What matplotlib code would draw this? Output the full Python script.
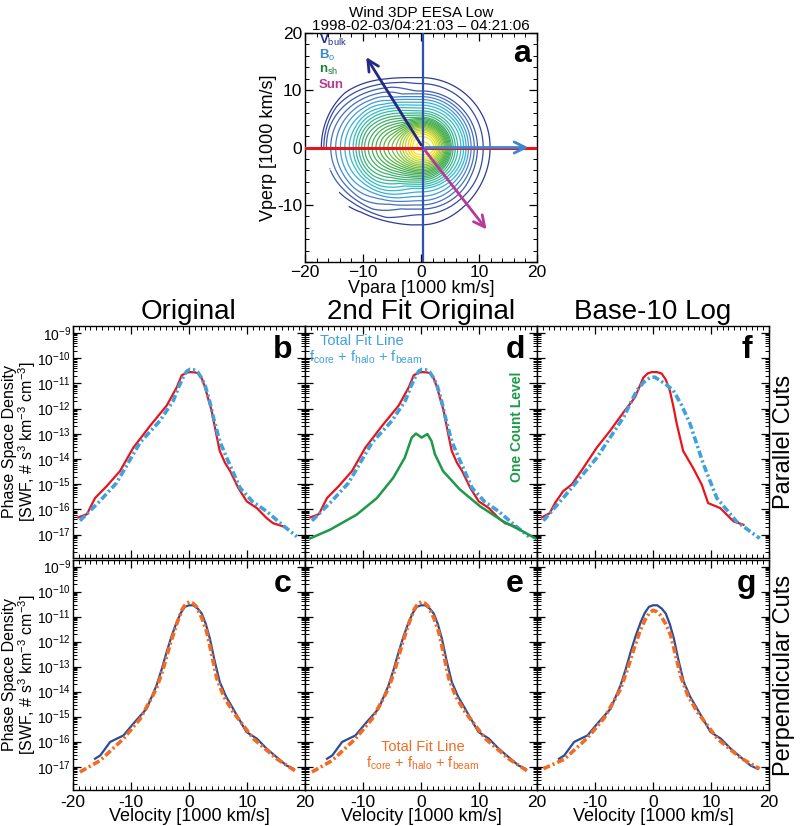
import numpy as np
import matplotlib
matplotlib.use('Agg')
import matplotlib.pyplot as plt
from matplotlib.colors import LinearSegmentedColormap
from matplotlib.ticker import FixedLocator, MultipleLocator, LogLocator, NullFormatter, FuncFormatter

plt.rcParams['font.family'] = ['Liberation Sans', 'DejaVu Sans']
plt.rcParams['mathtext.fontset'] = 'custom'
plt.rcParams['mathtext.rm'] = 'Liberation Sans'
plt.rcParams['mathtext.it'] = 'Liberation Sans:italic'
plt.rcParams['mathtext.bf'] = 'Liberation Sans:bold'

# ---- data (velocity in 1000 km/s, log10 of phase space density) ----
# parallel cut, measured (panels b, d)
v_par = [-19.1, -17.6, -16.2, -14.2, -11.9, -9.6, -6.7, -3.85, -2.1, -1.26, -0.5, 0.17, 1.0, 1.6,
         2.2, 2.76, 3.3, 3.9, 4.6, 5.3, 6.2, 7.1, 8.5, 9.95, 11.7, 13.4, 14.5, 16.3]
logf_par = [-16.32, -16.19, -15.55, -15.08, -14.48, -13.55, -12.68, -11.88, -11.15, -10.68, -10.58, -10.55,
            -10.56, -10.6, -10.8, -11.15, -11.6, -12.08, -12.9, -13.68, -14.15, -14.48, -15.15, -15.68,
            -15.95, -16.35, -16.55, -16.68]
# parallel cut, total fit (panels b, d)
v_par_fit = [-18.8, -15.5, -12.5, -8.45, -5.0, -2.7, -1.8, -1.0, -0.4, 0.17, 0.8, 1.5, 2.2, 2.8, 3.5,
             4.2, 5.3, 6.5, 8.8, 11.0, 13.4, 16.0, 18.6]
logf_par_fit = [-16.45, -15.7, -14.95, -13.35, -12.48, -11.68, -11.15, -10.75, -10.52, -10.44, -10.46,
                -10.55, -10.8, -11.1, -11.65, -12.35, -13.3, -13.95, -15.15, -15.7, -16.08, -16.6, -17.08]
# one count level (panel d)
v_one = [-19.1, -15.7, -11.1, -7.6, -4.8, -2.8, -1.6, -0.86, 0.1, 1.1, 1.8, 2.4, 3.8, 6.7, 10.2, 14.2, 17.6, 19.7]
logf_one = [-17.15, -16.81, -16.21, -15.55, -14.75, -13.95, -13.15, -12.99, -13.15, -13.01, -13.28, -13.81,
            -14.48, -15.21, -15.88, -16.48, -16.88, -17.15]
# parallel cut, log fit (panel f)
v_par_f = [-19.2, -17.8, -16.9, -15.5, -14.0, -12.0, -9.7, -7.4, -5.1, -3.1, -1.67, -0.9, -0.22, 0.7,
           1.5, 2.2, 2.9, 3.5, 4.1, 5.2, 6.9, 8.4, 9.5, 11.6, 13.9, 15.6]
logf_par_f = [-16.32, -16.15, -15.75, -15.28, -15.01, -14.35, -13.55, -12.88, -12.15, -11.55, -10.77,
              -10.6, -10.55, -10.55, -10.61, -10.85, -11.28, -11.9, -12.61, -13.68, -14.35, -15.01,
              -15.75, -15.95, -16.48, -16.61]
v_par_logfit = [-18.9, -15.5, -9.7, -5.1, -2.8, -1.6, -0.52, 0.3, 1.2, 2.3, 3.5, 4.9, 6.4, 8.7, 11.0, 14.4, 18.4]
logf_par_logfit = [-16.45, -15.55, -13.95, -12.35, -11.28, -10.95, -10.77, -10.75, -10.88, -11.05, -11.28,
                   -11.85, -12.61, -14.21, -15.55, -16.48, -17.15]
# perpendicular cut, measured (panels c, e, g)
v_perp = [-16.2, -15.3, -13.6, -11.3, -9.6, -7.3, -5.6, -4.7, -3.85, -3.0, -2.1, -1.4, -0.7, 0.0, 0.74,
          1.5, 2.2, 2.9, 3.6, 4.4, 5.3, 6.4, 7.6, 9.9, 11.7, 13.4, 16.8, 18.0]
logf_perp = [-16.68, -16.55, -16.01, -15.75, -15.28, -14.68, -13.75, -13.1, -12.41, -11.78, -11.21, -10.85,
             -10.61, -10.55, -10.55, -10.68, -10.88, -11.3, -11.88, -12.75, -13.61, -14.2, -14.68, -15.61,
             -15.88, -16.28, -16.95, -17.08]
# perpendicular cut, total fit (panels c, e)
v_perp_fit = [-18.8, -15.3, -11.3, -8.4, -5.6, -4.4, -3.3, -2.2, -1.26, -0.6, 0.05, 0.7, 1.3, 2.2, 3.05,
              3.9, 4.8, 6.0, 7.6, 11.1, 15.1, 18.6]
logf_perp_fit = [-17.21, -16.75, -15.88, -15.08, -13.88, -13.05, -12.15, -11.35, -10.75, -10.5, -10.41,
                 -10.47, -10.61, -11.05, -11.61, -12.5, -13.48, -14.2, -14.81, -15.88, -16.68, -17.21]
# perpendicular cut, log fit (panel g)
v_perp_logfit = [-18.9, -15.3, -11.3, -8.4, -5.6, -4.4, -3.3, -2.2, -1.3, -0.6, 0.0, 0.6, 1.3, 2.2, 3.05,
                 3.9, 4.8, 6.0, 7.6, 11.1, 15.1, 18.4]
logf_perp_logfit = [-17.08, -16.7, -15.85, -15.05, -13.9, -13.1, -12.3, -11.55, -11.1, -10.85, -10.75,
                    -10.8, -10.95, -11.3, -11.75, -12.55, -13.4, -14.15, -14.8, -15.88, -16.65, -17.08]

# panel a: direction vectors (tip positions, 1000 km/s)
vec_names = ['V$_{\\mathrm{bulk}}$', 'B$_{\\mathrm{o}}$', 'n$_{\\mathrm{sh}}$', 'Sun']
vec_colors = ['#232a86', '#3a86d2', '#1e7f3a', '#b83a98']
vec_tips = [(-9.7, 16.2), (19.0, 0.0), None, (11.6, -14.7)]
origin = (0.3, 0.0)

RED = '#e8141c'
LBLUE = '#3fa2dd'
DBLUE = '#2b4c9b'
ORANGE = '#f26b21'
GREEN = '#1c9a48'

fig = plt.figure(figsize=(8, 8.26), dpi=100)
W, H = 800.0, 826.0


def px_axes(x0, y0, x1, y1):
    return fig.add_axes([x0 / W, 1 - y1 / H, (x1 - x0) / W, (y1 - y0) / H])


def style(ax):
    ax.tick_params(which='both', direction='in', top=True, right=True, labelsize=12.5)
    ax.tick_params(which='major', length=6, width=0.9)
    ax.tick_params(which='minor', length=3, width=0.7)
    for s in ax.spines.values():
        s.set_linewidth(1.0)


# ---- panel a: contours of the 2D distribution, blended from the parallel and perpendicular cuts ----
axa = px_axes(305, 33, 537, 262)
g = np.linspace(-20, 20, 321)
X, Y = np.meshgrid(g, g)
R = np.hypot(X, Y)
c2 = np.where(R > 0, (X / np.where(R > 0, R, 1)) ** 2, 1.0)
Lp = np.interp(R * np.where(X < 0, -1, 1), v_par, logf_par, left=np.nan, right=np.nan)
Lq = np.interp(R * np.where(Y < 0, -1, 1), v_perp, logf_perp, left=np.nan, right=np.nan)
Z = c2 * Lp + (1 - c2) * Lq
cmap = LinearSegmentedColormap.from_list('idl', [(0.0, '#2e3a94'), (0.13, '#4a78c8'), (0.2, '#3aa8e0'),
                                                 (0.28, '#2ec0c8'), (0.4, '#3cb07a'), (0.6, '#4aae48'),
                                                 (0.8, '#98c83a'), (0.9, '#e0dc10'), (1.0, '#f8f000')])
levels = np.arange(-16.0, -10.55, 0.2)
axa.contour(X, Y, Z, levels=levels, cmap=cmap, linewidths=0.9)
axa.plot([-20, 20], [0, 0], color=RED, lw=2.2, zorder=3)
axa.plot([origin[0], origin[0]], [-20, 20], color='#3050b0', lw=1.6, zorder=3)
for tip, c in zip(vec_tips, vec_colors):
    if tip is None:
        continue
    axa.annotate('', xy=tip, xytext=origin,
                 arrowprops=dict(arrowstyle='->,head_length=0.8,head_width=0.4', color=c, lw=2.0),
                 zorder=4)
for i, (name, c) in enumerate(zip(vec_names, vec_colors)):
    axa.text(-17.6, 18.7 - i * 2.6, name, color=c, fontsize=9.5, fontweight='bold',
             ha='left', va='center')
axa.text(0.935, 0.91, 'a', transform=axa.transAxes, fontsize=23, fontweight='bold',
         ha='center', va='center')
axa.set_xlim(-20, 20)
axa.set_ylim(-20, 20)
axa.xaxis.set_major_locator(FixedLocator([-20, -10, 0, 10, 20]))
axa.yaxis.set_major_locator(FixedLocator([-20, -10, 0, 10, 20]))
axa.set_yticklabels(['', '-10', '0', '10', '20'])
axa.xaxis.set_minor_locator(MultipleLocator(2))
axa.yaxis.set_minor_locator(MultipleLocator(2))
style(axa)
axa.tick_params(labelsize=12.5, pad=2)
axa.set_xlabel('Vpara [1000 km/s]', fontsize=13, labelpad=0)
axa.set_ylabel('Vperp [1000 km/s]', fontsize=13, labelpad=0)
axa.set_title('Wind 3DP EESA Low\n1998-02-03/04:21:03 \u2013 04:21:06', fontsize=11,
              linespacing=0.95, pad=2)

# ---- panels b-g ----
cols = [73, 305, 537]
rows = [(326, 558), (559.5, 790)]
panels = {}
letters = [['b', 'd', 'f'], ['c', 'e', 'g']]
for r, (y0, y1) in enumerate(rows):
    for c, x0 in enumerate(cols):
        ax = px_axes(x0, y0, x0 + 232, y1)
        ax.set_yscale('log')
        ax.set_xlim(-20, 20)
        ax.set_ylim(10 ** -17.93, 10 ** -8.72)
        ax.xaxis.set_major_locator(FixedLocator([-20, -10, 0, 10, 20]))
        ax.xaxis.set_minor_locator(MultipleLocator(1))
        ax.yaxis.set_major_locator(FixedLocator([10.0 ** k for k in range(-17, -8)]))
        ax.yaxis.set_minor_locator(LogLocator(base=10, subs=np.arange(2, 10), numticks=30))
        ax.yaxis.set_minor_formatter(NullFormatter())
        if c == 0:
            ax.yaxis.set_major_formatter(FuncFormatter(lambda v, p: r'$10^{%d}$' % round(np.log10(v))))
        else:
            ax.yaxis.set_major_formatter(NullFormatter())
        if r == 1:
            if c == 0:
                ax.set_xticklabels(['-20', '-10', '0', '10', '20'])
            else:
                ax.set_xticklabels(['', '-10', '0', '10', '20'])
            ax.set_xlabel('Velocity [1000 km/s]', fontsize=13, labelpad=-1)
        else:
            ax.xaxis.set_major_formatter(NullFormatter())
        style(ax)
        ax.tick_params(axis='y', labelsize=10, pad=1.5)
        ax.text(0.905, 0.895, letters[r][c], transform=ax.transAxes, fontsize=23,
                fontweight='bold', ha='center', va='center')
        panels[letters[r][c]] = ax

dash = (0, (2.0, 0.8, 0.6, 0.8))
p = lambda a: 10.0 ** np.asarray(a)

for k in ['b', 'd']:
    ax = panels[k]
    ax.plot(v_par, p(logf_par), color=RED, lw=1.6)
    ax.plot(v_par_fit, p(logf_par_fit), color=LBLUE, lw=2.6, linestyle=dash)
panels['d'].plot(v_one, p(logf_one), color=GREEN, lw=1.8)
panels['f'].plot(v_par_f, p(logf_par_f), color=RED, lw=1.6)
panels['f'].plot(v_par_logfit, p(logf_par_logfit), color=LBLUE, lw=2.6, linestyle=dash)

for k in ['c', 'e']:
    ax = panels[k]
    ax.plot(v_perp, p(logf_perp), color=DBLUE, lw=1.6)
    ax.plot(v_perp_fit, p(logf_perp_fit), color=ORANGE, lw=2.6, linestyle=dash)
panels['g'].plot(v_perp, p(logf_perp), color=DBLUE, lw=1.6)
panels['g'].plot(v_perp_logfit, p(logf_perp_logfit), color=ORANGE, lw=2.6, linestyle=dash)

# annotations
axd = panels['d']
axd.text(0.245, 0.935, 'Total Fit Line', transform=axd.transAxes, color=LBLUE, fontsize=10.5,
         ha='center', va='center')
axd.text(0.26, 0.866, r'f$_{\mathrm{core}}$ + f$_{\mathrm{halo}}$ + f$_{\mathrm{beam}}$',
         transform=axd.transAxes, color=LBLUE, fontsize=10.5, ha='center', va='center')
axd.text(0.912, 0.566, 'One Count Level', transform=axd.transAxes, color=GREEN, fontsize=10,
         fontweight='bold', rotation=90, ha='center', va='center')
axe = panels['e']
axe.text(0.507, 0.185, 'Total Fit Line', transform=axe.transAxes, color=ORANGE, fontsize=10.5,
         ha='center', va='center')
axe.text(0.507, 0.115, r'f$_{\mathrm{core}}$ + f$_{\mathrm{halo}}$ + f$_{\mathrm{beam}}$',
         transform=axe.transAxes, color=ORANGE, fontsize=10.5, ha='center', va='center')

# column titles and row labels
for x0, t in zip(cols, ['Original', '2nd Fit Original', 'Base-10 Log']):
    fig.text((x0 + 116) / W, 1 - 312 / H, t, fontsize=20, ha='center', va='center')
fig.text(784 / W, 1 - 442 / H, 'Parallel Cuts', fontsize=17, rotation=90, ha='center', va='center')
fig.text(784 / W, 1 - 675 / H, 'Perpendicular Cuts', fontsize=17, rotation=90, ha='center', va='center')
for (y0, y1) in rows:
    fig.text(20 / W, 1 - (y0 + y1) / 2 / H,
             'Phase Space Density\n[SWF, # s$^{3}$ km$^{-3}$ cm$^{-3}$]',
             fontsize=11.5, rotation=90, ha='center', va='center', multialignment='center',
             linespacing=1.0)

fig.savefig('out.png', dpi=100)
